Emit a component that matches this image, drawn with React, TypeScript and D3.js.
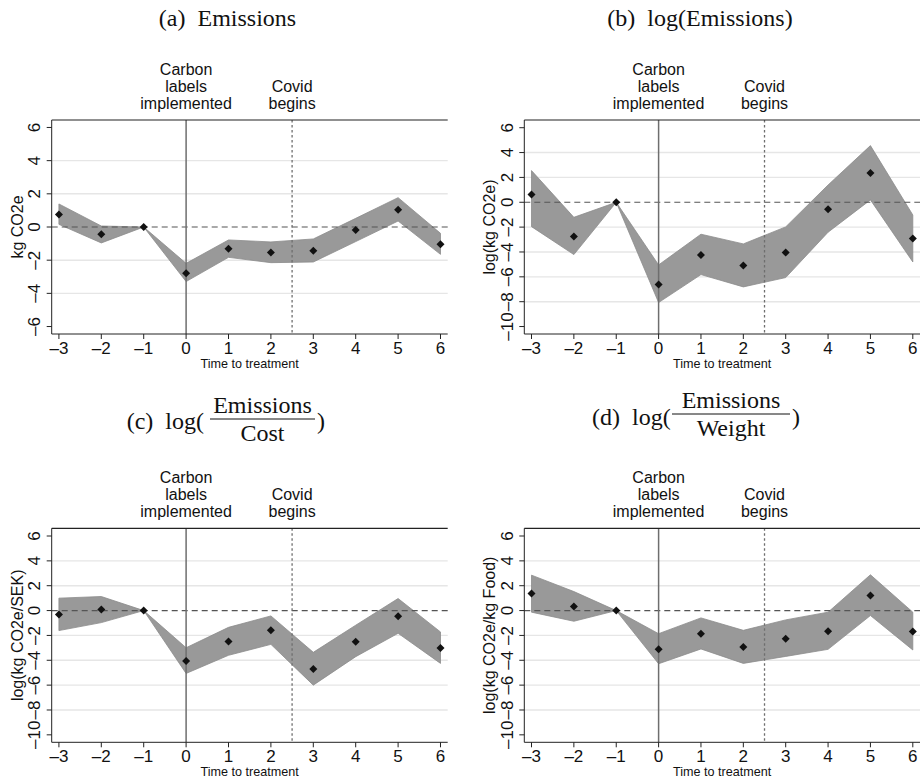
import React from "react";
import * as d3 from "d3";

// event time (periods relative to the label roll-out)
const periods = [-3, -2, -1, 0, 1, 2, 3, 4, 5, 6];

// (a) Emissions, kg CO2e
const emisCoef = [0.76, -0.44, 0, -2.79, -1.31, -1.53, -1.43, -0.18, 1.04, -1.04];
const emisLo = [0.16, -0.96, 0, -3.29, -1.83, -2.15, -2.11, -0.88, 0.36, -1.65];
const emisHi = [1.39, 0.06, 0, -2.19, -0.78, -0.9, -0.72, 0.52, 1.77, -0.38];

// (b) log(Emissions)
const logCoef = [0.62, -2.76, 0, -6.62, -4.24, -5.09, -4.05, -0.56, 2.36, -2.92];
const logLo = [-1.96, -4.21, 0, -8.07, -5.82, -6.81, -6.06, -2.41, 0.19, -4.8];
const logHi = [2.55, -1.21, 0, -5.04, -2.57, -3.35, -1.98, 1.39, 4.56, -1.02];

// (c) log(Emissions / Cost)
const costCoef = [-0.32, 0.08, 0, -4.06, -2.48, -1.59, -4.71, -2.5, -0.46, -3.01];
const costLo = [-1.61, -0.97, 0, -5.06, -3.6, -2.72, -6.0, -3.71, -1.83, -4.25];
const costHi = [1.0, 1.13, 0, -2.99, -1.35, -0.43, -3.36, -1.18, 0.97, -1.72];

// (d) log(Emissions / Weight)
const weightCoef = [1.37, 0.32, 0, -3.12, -1.86, -2.93, -2.26, -1.67, 1.21, -1.69];
const weightLo = [-0.13, -0.86, 0, -4.28, -3.09, -4.25, -3.69, -3.12, -0.4, -3.17];
const weightHi = [2.85, 1.53, 0, -1.86, -0.59, -1.59, -0.75, -0.13, 2.88, -0.13];

const ticksSmall = [-6, -4, -2, 0, 2, 4, 6];
const ticksWide = [-10, -8, -6, -4, -2, 0, 2, 4, 6];

const labelDate = 0;
const covidDate = 2.5;

const sans = "'Liberation Sans', Arial, Helvetica, sans-serif";
const serif = "'Liberation Serif', 'Times New Roman', serif";
const dash = (v: number) => (v < 0 ? "\u2013" + Math.abs(v) : String(v));

type PanelProps = {
  left: number;
  right: number;
  top: number;
  bottom: number;
  yDomain: [number, number];
  yTicks: number[];
  yTitle: string;
  coef: number[];
  lo: number[];
  hi: number[];
};

const Panel = ({ left, right, top, bottom, yDomain, yTicks, yTitle, coef, lo, hi }: PanelProps) => {
  const x = d3.scaleLinear().domain([-3.17, 6.17]).range([left, right]);
  const y = d3.scaleLinear().domain(yDomain).range([bottom, top]);

  const rows = periods.map((p, i) => ({ p, c: coef[i], lo: lo[i], hi: hi[i] }));
  const band = d3
    .area<{ p: number; lo: number; hi: number }>()
    .x(d => x(d.p))
    .y0(d => y(d.lo))
    .y1(d => y(d.hi))(rows);
  const diamond = d3.symbol().type(d3.symbolSquare).size(32)()!;

  const midY = (top + bottom) / 2;

  return (
    <g>
      {/* grid lines, interior ticks only */}
      {yTicks
        .filter(t => t !== 0 && t !== yTicks[0] && t !== yTicks[yTicks.length - 1])
        .map(t => (
          <line key={t} x1={left} x2={right} y1={y(t)} y2={y(t)} stroke="#e6e6e6" strokeWidth={1.4} />
        ))}

      <path d={band!} fill="#999999" stroke="#8c8c8c" strokeWidth={0.8} />

      {/* reference lines */}
      <line x1={left} x2={right} y1={y(0)} y2={y(0)} stroke="#555" strokeWidth={1.2} strokeDasharray="6,4" />
      <line x1={x(labelDate)} x2={x(labelDate)} y1={top} y2={bottom} stroke="#6e6e6e" strokeWidth={1.5} />
      <line x1={x(covidDate)} x2={x(covidDate)} y1={top} y2={bottom} stroke="#6e6e6e" strokeWidth={1.3} strokeDasharray="2.5,2.5" />

      {rows.map(d => (
        <path key={d.p} d={diamond} transform={`translate(${x(d.p)},${y(d.c)}) rotate(45)`} fill="#111" />
      ))}

      {/* frame: top line, left and bottom axes */}
      <line x1={left} x2={right} y1={top} y2={top} stroke="#222" strokeWidth={1.2} />
      <line x1={left} x2={left} y1={top} y2={bottom} stroke="#222" strokeWidth={1} />
      <line x1={left} x2={right} y1={bottom} y2={bottom} stroke="#222" strokeWidth={1} />

      {yTicks.map(t => (
        <g key={t}>
          <line x1={left - 5} x2={left} y1={y(t)} y2={y(t)} stroke="#222" strokeWidth={1} />
          <text
            transform={`translate(${left - 11.5},${y(t)}) rotate(-90)`}
            textAnchor="middle"
            fontFamily={sans}
            fontSize={17}
            fill="#111"
          >
            {dash(t)}
          </text>
        </g>
      ))}

      {periods.map(p => (
        <g key={p}>
          <line x1={x(p)} x2={x(p)} y1={bottom} y2={bottom + 5} stroke="#222" strokeWidth={1} />
          <text x={x(p)} y={bottom + 19.5} textAnchor="middle" fontFamily={sans} fontSize={17} fill="#111">
            {dash(p)}
          </text>
        </g>
      ))}

      <text
        transform={`translate(${left - 29},${midY}) rotate(-90)`}
        textAnchor="middle"
        fontFamily={sans}
        fontSize={16}
        fill="#111"
      >
        {yTitle}
      </text>
      <text x={(left + right) / 2} y={bottom + 33.5} textAnchor="middle" fontFamily={sans} fontSize={12.6} fill="#111">
        Time to treatment
      </text>

      {/* event annotations */}
      {["Carbon", "labels", "implemented"].map((s, i) => (
        <text key={s} x={x(labelDate)} y={top - 11.5 - (2 - i) * 16.7} textAnchor="middle" fontFamily={sans} fontSize={16} fill="#111">
          {s}
        </text>
      ))}
      {["Covid", "begins"].map((s, i) => (
        <text key={s} x={x(covidDate)} y={top - 11.5 - (1 - i) * 16.7} textAnchor="middle" fontFamily={sans} fontSize={16} fill="#111">
          {s}
        </text>
      ))}
    </g>
  );
};

const FracTitle = ({ x0, label, den, lineY, baseY, lineL, lineR }: any) => (
  <g fontFamily={serif} fontSize={24} fill="#111">
    <text x={x0} y={baseY}>{label}</text>
    <line x1={lineL} x2={lineR} y1={lineY} y2={lineY} stroke="#111" strokeWidth={1} />
    <text x={(lineL + lineR) / 2} y={lineY - 6} textAnchor="middle">Emissions</text>
    <text x={(lineL + lineR) / 2} y={lineY + 22} textAnchor="middle">{den}</text>
    <text x={lineR + 2} y={baseY}>)</text>
  </g>
);

export default function App() {
  return (
    <svg width={921} height={782} style={{ display: "block", position: "absolute", left: 0, top: 0, background: "#fff" }}>
      <rect width={921} height={782} fill="#fff" />

      <text x={227.5} y={26} textAnchor="middle" fontFamily={serif} fontSize={24} fill="#111">
        {"(a)\u00a0\u00a0Emissions"}
      </text>
      <text x={700} y={26} textAnchor="middle" fontFamily={serif} fontSize={24} fill="#111">
        {"(b)\u00a0\u00a0log(Emissions)"}
      </text>
      <FracTitle x0={126.7} label={"(c)\u00a0\u00a0log("} den="Cost" lineY={419} baseY={429} lineL={210} lineR={315} />
      <FracTitle x0={592} label={"(d)\u00a0\u00a0log("} den="Weight" lineY={414} baseY={425} lineL={672} lineR={790} />

      <Panel left={51.7} right={447.7} top={120} bottom={334} yDomain={[-6.45, 6.45]} yTicks={ticksSmall}
        yTitle="kg CO2e" coef={emisCoef} lo={emisLo} hi={emisHi} />
      <Panel left={524.3} right={920} top={120} bottom={334} yDomain={[-10.6, 6.62]} yTicks={ticksWide}
        yTitle="log(kg CO2e)" coef={logCoef} lo={logLo} hi={logHi} />
      <Panel left={51.7} right={447.7} top={528.3} bottom={742.3} yDomain={[-10.6, 6.62]} yTicks={ticksWide}
        yTitle="log(kg CO2e/SEK)" coef={costCoef} lo={costLo} hi={costHi} />
      <Panel left={524.3} right={920} top={528.3} bottom={742.3} yDomain={[-10.6, 6.62]} yTicks={ticksWide}
        yTitle="log(kg CO2e/kg Food)" coef={weightCoef} lo={weightLo} hi={weightHi} />
    </svg>
  );
}
